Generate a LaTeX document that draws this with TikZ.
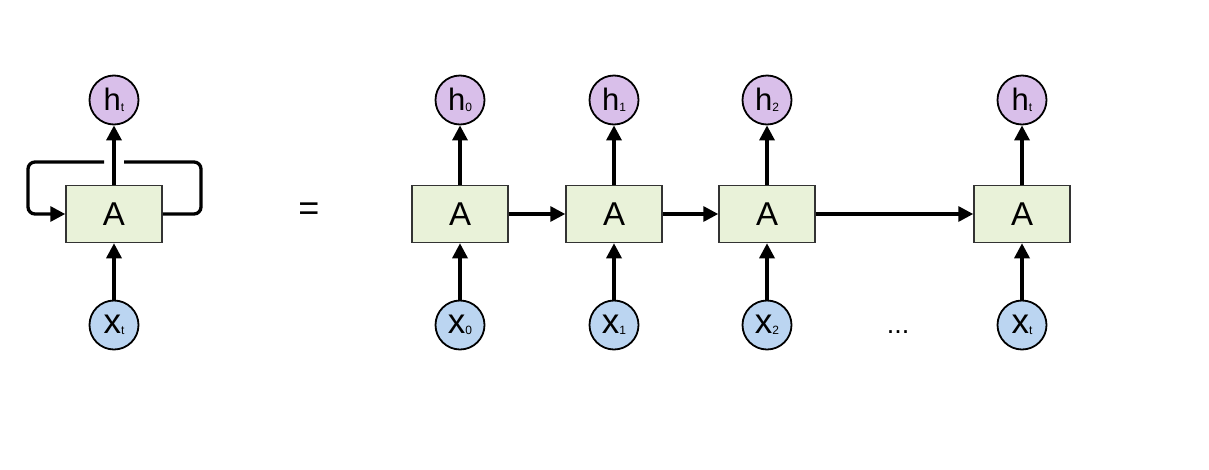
\documentclass[tikz,border=0pt]{standalone}
\usepackage{fontspec}
\setmainfont{Liberation Sans}
\usetikzlibrary{arrows.meta}
\definecolor{boxfill}{HTML}{E9F2D9}
\definecolor{hfill}{HTML}{D9BFEA}
\definecolor{xfill}{HTML}{BBD5F1}
\definecolor{edge}{HTML}{333333}
\begin{document}
\begin{tikzpicture}[x=1pt,y=-1pt,
  cell/.style={draw=edge,line width=1.5pt,fill=boxfill,minimum width=96pt,minimum height=57pt,inner sep=0pt,font=\fontsize{33}{33}\selectfont},
  hnode/.style={circle,draw=black,line width=1.8pt,fill=hfill,minimum size=49pt,inner sep=0pt},
  xnode/.style={circle,draw=black,line width=1.8pt,fill=xfill,minimum size=49pt,inner sep=0pt},
  conn/.style={line width=3.3pt,-{Triangle[length=15pt,width=15pt]}},
  loopline/.style={line width=3.3pt,rounded corners=7pt}]
\useasboundingbox (0,0) rectangle (1209,469);
\newcommand{\hlab}[1]{\fontsize{31}{31}\selectfont h\raisebox{-1pt}{\fontsize{12}{12}\selectfont #1}}
\newcommand{\xlab}[1]{\fontsize{35}{35}\selectfont x\raisebox{-1pt}{\fontsize{12}{12}\selectfont #1}}
% left rolled network
\node[cell] (A) at (114,214) {A};
\node[hnode] (H) at (114,100) {\hlab{t}};
\node[xnode] (X) at (114,325) {\xlab{t}};
\draw[conn] (X) -- (A);
\draw[conn] (A) -- (H);
\coordinate (l1) at (124,162);
\coordinate (l2) at (104,162);
\draw[loopline] (A.east) -- (201,214) -- (201,162) -- (l1);
\draw[loopline,-{Triangle[length=15pt,width=15pt]}] (l2) -- (28,162) -- (28,214) -- (A.west);
\node[font=\fontsize{36}{36}\selectfont] (eq) at (309,212) {=};
% unrolled
\foreach \i/\px/\s in {0/460/0,1/614/1,2/767/2,3/1022/t}{
  \node[cell] (A\i) at (\px,214) {A};
  \node[hnode] (H\i) at (\px,100) {\hlab{\s}};
  \node[xnode] (X\i) at (\px,325) {\xlab{\s}};
  \draw[conn] (X\i) -- (A\i);
  \draw[conn] (A\i) -- (H\i);
}
\draw[conn] (A0) -- (A1);
\draw[conn] (A1) -- (A2);
\draw[conn] (A2) -- (A3);
\node[font=\fontsize{27}{27}\selectfont,anchor=base] (dots) at (898,333) {...};
\end{tikzpicture}
\end{document}
